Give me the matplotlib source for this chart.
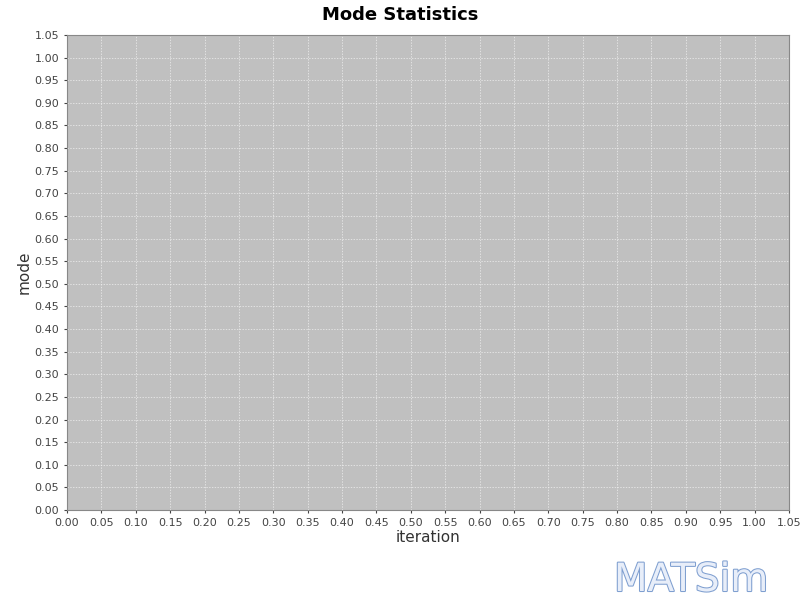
import matplotlib
matplotlib.use("Agg")
import matplotlib.pyplot as plt
import matplotlib.patheffects as pe

title = "Mode Statistics"
x_label = "iteration"
y_label = "mode"
x_ticks = [round(i * 0.05, 2) for i in range(22)]
y_ticks = [round(i * 0.05, 2) for i in range(22)]
iterations = []  # no data in the chart
values = []

fig = plt.figure(figsize=(8, 6), dpi=100)
ax = fig.add_axes([67/800, 1-510/600, (789-67)/800, (510-35)/600])
ax.set_facecolor("#c0c0c0")
ax.plot(iterations, values)
ax.set_xlim(0, 1.05)
ax.set_ylim(0, 1.05)
ax.set_xticks(x_ticks)
ax.set_yticks(y_ticks)
ax.set_xticklabels([f"{v:.2f}" for v in x_ticks])
ax.set_yticklabels([f"{v:.2f}" for v in y_ticks])
ax.tick_params(labelsize=8, colors="#444444", length=2)
ax.grid(True, color="#f0f0f0", linestyle=(0, (2, 2)), linewidth=0.5)
for s in ax.spines.values():
    s.set_color("#888888")
    s.set_linewidth(0.8)
ax.set_xlabel(x_label, fontsize=11, color="#333333", labelpad=2)
ax.set_ylabel(y_label, fontsize=11, color="#333333", labelpad=2)
fig.text(0.5, 1-15/600, title, ha="center", va="center", fontsize=13, fontweight="bold")
t = fig.text(691/800, 1-580/600, "MATSim", ha="center", va="center", fontsize=28,
             color="#e8eef9")
t.set_path_effects([pe.withStroke(linewidth=1.5, foreground="#7f9fd0")])
fig.savefig("out.png", dpi=100)
